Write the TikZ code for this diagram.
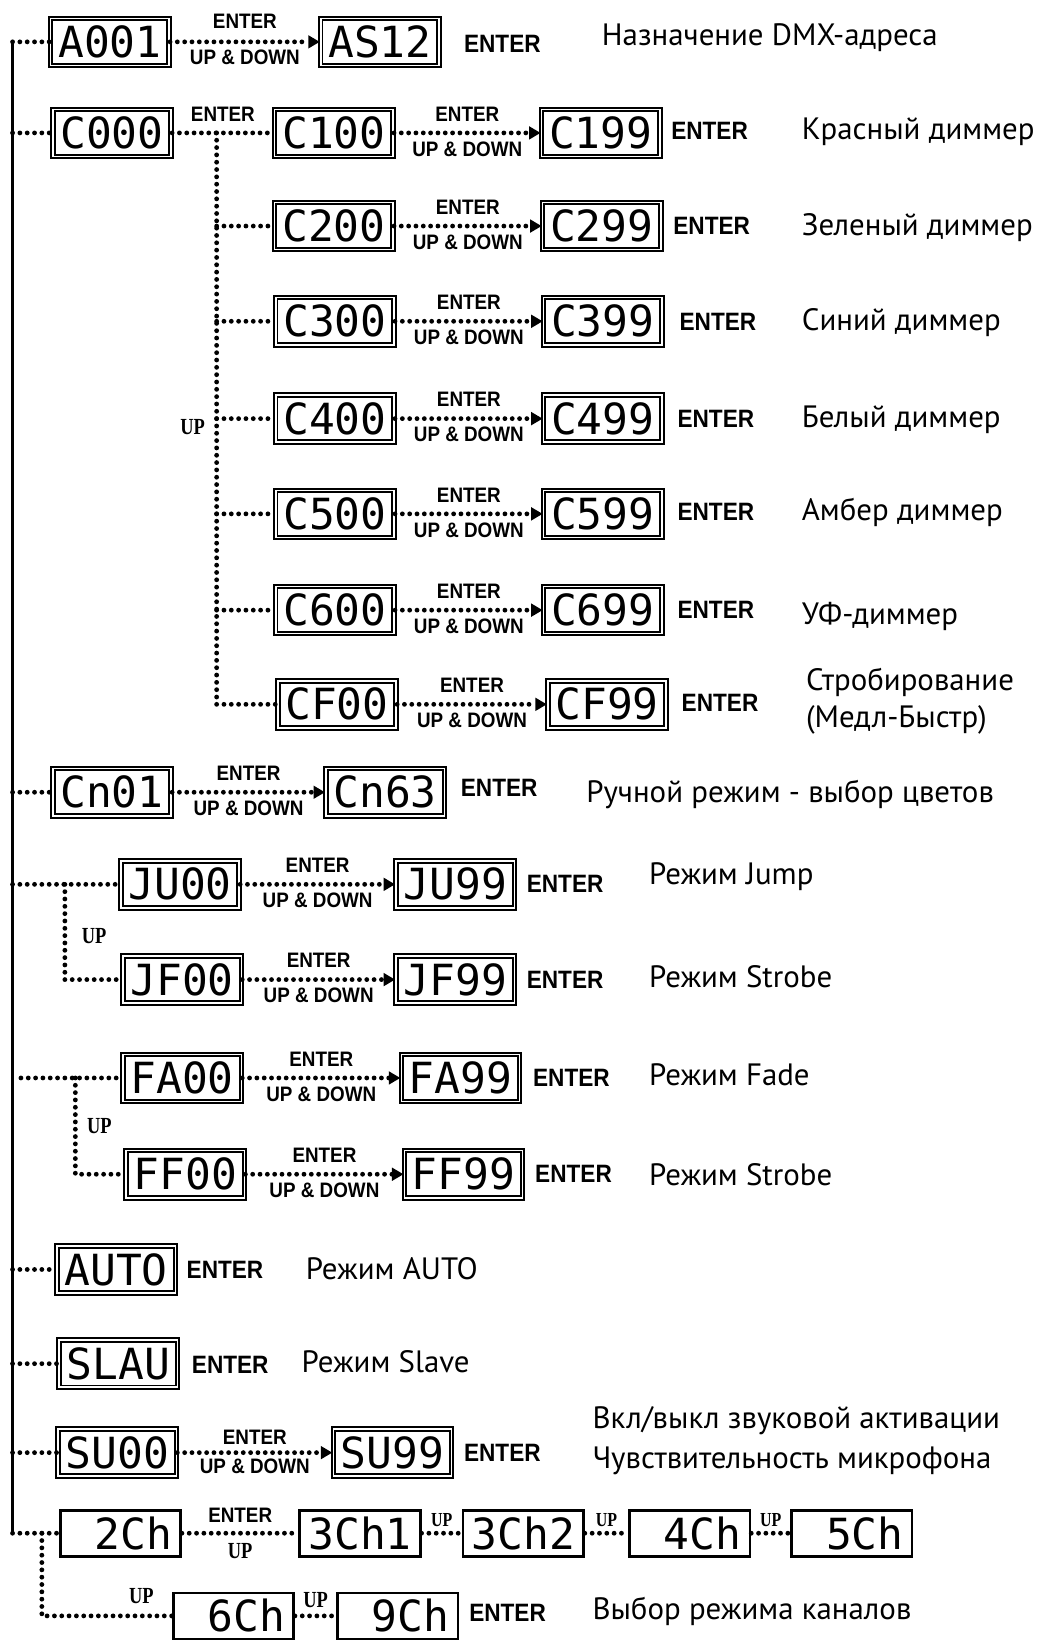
\documentclass[tikz,border=0pt]{standalone}
\usepackage{fontspec}
\setmainfont{PT Sans}
\newfontfamily\segfont{DejaVu Sans Mono}
\newfontfamily\lblfont{Liberation Sans}[FakeStretch=0.9]
\newfontfamily\upfont{Liberation Serif}[FakeStretch=0.8]
\usetikzlibrary{arrows.meta}
\begin{document}
\begin{tikzpicture}[x=1pt,y=-1pt,
  disp/.style={draw, line width=1.9pt, double, double distance=1.4pt, minimum width=113pt, minimum height=45pt, inner sep=0pt, font=\segfont\fontsize{41}{41}\selectfont},
  chdisp/.style={draw, line width=2.6pt, minimum width=115pt, minimum height=44pt, inner sep=0pt, font=\segfont\fontsize{41}{41}\selectfont},
  dots/.style={line width=4.6pt, line cap=round, dash pattern=on 0pt off 7pt},
  arr/.style={dots, -{Triangle[length=11pt,width=12pt]}},
  lbl/.style={font=\lblfont\bfseries\fontsize{20}{20}\selectfont, inner sep=0pt},
  ent/.style={font=\lblfont\bfseries\fontsize{24}{24}\selectfont, inner sep=0pt},
  up/.style={font=\upfont\bfseries\fontsize{22}{22}\selectfont, inner sep=0pt},
  sup/.style={font=\upfont\bfseries\fontsize{19}{19}\selectfont, inner sep=0pt},
  desc/.style={font=\fontsize{29.5}{29.5}\selectfont, anchor=west, inner sep=0pt},
]
\fill[white] (0,0) rectangle (992,1568);
\useasboundingbox (0,0) rectangle (992,1568);

% main line
\coordinate (top) at (12,38);
\coordinate (bot) at (12,1465);
\draw[line width=3.4pt] (top) -- (bot);

% row 1
\node[disp] (a001) at (105,40) {A001};
\node[disp] (as12) at (363,40) {AS12};
\draw[dots] (top |- a001) -- (a001);
\draw[arr] (a001) -- (as12) node[lbl,midway,above=10pt] (l1a) {ENTER} node[lbl,midway,below=5pt] (l1b) {UP \& DOWN};
\node[ent] (e1) at (480,42) {ENTER};
\node[desc] (d1) at (575,36) {Назначение DMX-адреса};

% row 2 (C group)
\node[disp] (c000) at (107,127) {C000};
\draw[dots] (top |- c000) -- (c000);
\node[disp] (c100) at (319,127) {C100};
\node[disp] (c199) at (574,127) {C199};
\draw[dots] (c000) -- (c100) node[lbl,midway,above=9pt] (l2) {ENTER};
\coordinate (cv) at (207,127);

\node[disp] (c200) at (319,216) {C200};
\node[disp] (c299) at (575,216) {C299};
\node[disp] (c300) at (320,307) {C300};
\node[disp] (c399) at (576,307) {C399};
\node[disp] (c400) at (320,400) {C400};
\node[disp] (c499) at (576,400) {C499};
\node[disp] (c500) at (320,491) {C500};
\node[disp] (c599) at (576,491) {C599};
\node[disp] (c600) at (320,583) {C600};
\node[disp] (c699) at (576,583) {C699};
\node[disp] (cf00) at (322,673) {CF00};
\node[disp] (cf99) at (580,673) {CF99};

\draw[dots] (cv) -- (cv |- cf00) -- (cf00);
\foreach \a in {c200,c300,c400,c500,c600} {\draw[dots] (cv |- \a) -- (\a);}
\node[up] (upc) at (184,408) {UP};

\foreach \a/\b in {c100/c199,c200/c299,c300/c399,c400/c499,c500/c599,c600/c699,cf00/cf99} {
  \draw[arr] (\a) -- (\b) node[lbl,midway,above=9pt] {ENTER} node[lbl,midway,below=6pt] {UP \& DOWN};
}
\node[ent] (e2) at (678,125) {ENTER};
\node[ent] (e3) at (680,216) {ENTER};
\node[ent] (e4) at (686,308) {ENTER};
\node[ent] (e5) at (684,400) {ENTER};
\node[ent] (e6) at (684,489) {ENTER};
\node[ent] (e7) at (684,583) {ENTER};
\node[ent] (e8) at (688,672) {ENTER};
\node[desc] (d2) at (766,126) {Красный диммер};
\node[desc] (d3) at (766,217) {Зеленый диммер};
\node[desc] (d4) at (766,308) {Синий диммер};
\node[desc] (d5) at (766,401) {Белый диммер};
\node[desc] (d6) at (766,490) {Амбер диммер};
\node[desc] (d7) at (766,589) {УФ-диммер};
\node[desc] (d8a) at (770,652) {Стробирование};
\node[desc] (d8b) at (770,688) {(Медл-Быстр)};

% row 9
\node[disp] (cn01) at (107,757) {Cn01};
\node[disp] (cn63) at (368,757) {Cn63};
\draw[dots] (top |- cn01) -- (cn01);
\draw[arr] (cn01) -- (cn63) node[lbl,midway,above=9pt] {ENTER} node[lbl,midway,below=6pt] {UP \& DOWN};
\node[ent] (e9) at (477,753) {ENTER};
\node[desc] (d9) at (560,759) {Ручной режим - выбор цветов};

% rows 10-11
\node[disp] (ju00) at (172,845) {JU00};
\node[disp] (ju99) at (435,845) {JU99};
\node[disp] (jf00) at (174,936) {JF00};
\node[disp] (jf99) at (435,936) {JF99};
\draw[dots] (top |- ju00) -- (ju00);
\coordinate (jv) at (62,845);
\draw[dots] (jv) -- (jv |- jf00) -- (jf00);
\node[up] (upj) at (90,894) {UP};
\draw[arr] (ju00) -- (ju99) node[lbl,midway,above=9pt] {ENTER} node[lbl,midway,below=6pt] {UP \& DOWN};
\draw[arr] (jf00) -- (jf99) node[lbl,midway,above=9pt] {ENTER} node[lbl,midway,below=6pt] {UP \& DOWN};
\node[ent] (e10) at (540,845) {ENTER};
\node[ent] (e11) at (540,936) {ENTER};
\node[desc] (d10) at (620,838) {Режим Jump};
\node[desc] (d11) at (620,933) {Режим Strobe};

% rows 12-13
\node[disp] (fa00) at (174,1030) {FA00};
\node[disp] (fa99) at (440,1030) {FA99};
\node[disp] (ff00) at (177,1122) {FF00};
\node[disp] (ff99) at (443,1122) {FF99};
\coordinate (fs) at (20,1030);
\draw[dots] (fs) -- (fa00);
\coordinate (fv) at (72,1030);
\draw[dots] (fv) -- (fv |- ff00) -- (ff00);
\node[up] (upf) at (95,1076) {UP};
\draw[arr] (fa00) -- (fa99) node[lbl,midway,above=9pt] {ENTER} node[lbl,midway,below=6pt] {UP \& DOWN};
\draw[arr] (ff00) -- (ff99) node[lbl,midway,above=9pt] {ENTER} node[lbl,midway,below=6pt] {UP \& DOWN};
\node[ent] (e12) at (546,1030) {ENTER};
\node[ent] (e13) at (548,1122) {ENTER};
\node[desc] (d12) at (620,1027) {Режим Fade};
\node[desc] (d13) at (620,1122) {Режим Strobe};

% row 14-15
\node[disp] (auto) at (111,1213) {AUTO};
\draw[dots] (top |- auto) -- (auto);
\node[ent] (e14) at (215,1213) {ENTER};
\node[desc] (d14) at (292,1212) {Режим AUTO};
\node[disp] (slau) at (113,1303) {SLAU};
\draw[dots] (top |- slau) -- (slau);
\node[ent] (e15) at (220,1304) {ENTER};
\node[desc] (d15) at (288,1301) {Режим Slave};

% row 16
\node[disp] (su00) at (112,1388) {SU00};
\node[disp] (su99) at (375,1388) {SU99};
\draw[dots] (top |- su00) -- (su00);
\draw[arr] (su00) -- (su99) node[lbl,midway,above=5pt] {ENTER} node[lbl,midway,below=4pt] {UP \& DOWN};
\node[ent] (e16) at (480,1388) {ENTER};
\node[desc] (d16a) at (566,1357) {Вкл/выкл звуковой активации};
\node[desc] (d16b) at (566,1396) {Чувствительность микрофона};

% row 17
\node[chdisp] (ch2) at (115,1465) {\phantom{0}2Ch};
\node[chdisp] (ch31) at (344,1465) {3Ch1};
\node[chdisp] (ch32) at (500,1465) {3Ch2};
\node[chdisp] (ch4) at (659,1465) {\phantom{0}4Ch};
\node[chdisp] (ch5) at (814,1465) {\phantom{0}5Ch};
\draw[dots] (bot) -- (ch2);
\draw[dots] (ch2) -- (ch31) node[lbl,midway,above=8pt] {ENTER} node[up,midway,below=7pt] {UP};
\draw[dots] (ch31) -- (ch32) node[sup,midway,above=4pt] {UP};
\draw[dots] (ch32) -- (ch4) node[sup,midway,above=4pt] {UP};
\draw[dots] (ch4) -- (ch5) node[sup,midway,above=4pt] {UP};

% row 18
\node[chdisp] (ch6) at (223,1544) {\phantom{0}6Ch};
\node[chdisp] (ch9) at (380,1544) {\phantom{0}9Ch};
\coordinate (chv) at (40,1465);
\draw[dots] (chv) -- (chv |- ch6) -- (ch6);
\node[up] (up6) at (135,1525) {UP};
\draw[dots] (ch6) -- (ch9) node[up,midway,above=6pt] {UP};
\node[ent] (e18) at (485,1541) {ENTER};
\node[desc] (d18) at (566,1540) {Выбор режима каналов};
\end{tikzpicture}
\end{document}
